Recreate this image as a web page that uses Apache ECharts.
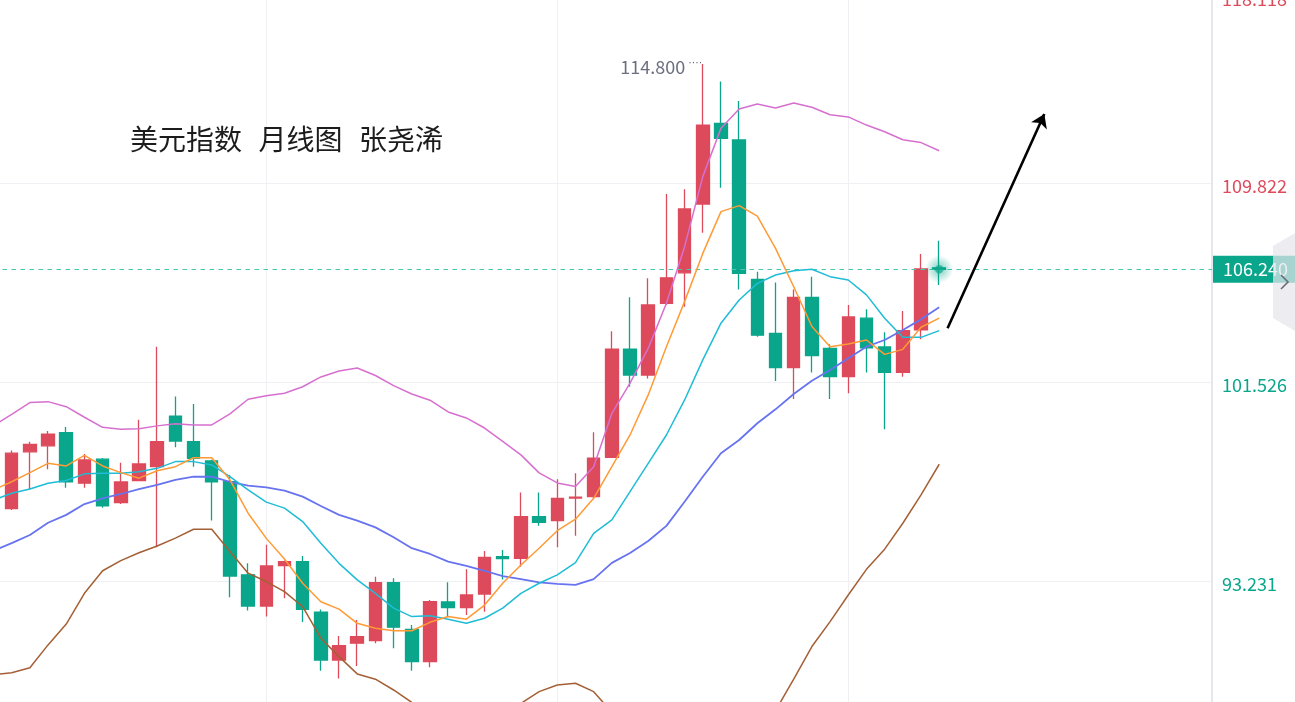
<!DOCTYPE html>
<html>
<head>
<meta charset="utf-8">
<script src="https://cdn.jsdelivr.net/npm/echarts@6/dist/echarts.min.js"></script>
<style>
html,body{margin:0;padding:0;background:#fff;}
#c{width:1295px;height:702px;}
</style>
</head>
<body>
<div id="c"></div>
<script>
// ---- data (monthly US Dollar Index) ----
const categories = [
  '2019-06','2019-07','2019-08','2019-09','2019-10','2019-11','2019-12',
  '2020-01','2020-02','2020-03','2020-04','2020-05','2020-06','2020-07','2020-08','2020-09','2020-10','2020-11','2020-12',
  '2021-01','2021-02','2021-03','2021-04','2021-05','2021-06','2021-07','2021-08','2021-09','2021-10','2021-11','2021-12',
  '2022-01','2022-02','2022-03','2022-04','2022-05','2022-06','2022-07','2022-08','2022-09','2022-10','2022-11','2022-12',
  '2023-01','2023-02','2023-03','2023-04','2023-05','2023-06','2023-07','2023-08','2023-09','2023-10','2023-11','2023-12',
  '2024-01','2024-02','2024-03','2024-04','2024-05','2024-06','2024-07','2024-08','2024-09','2024-10','2024-11','2024-12',
  '2025-01'
];

// [open, close, low, high]
const candles = [
  '-',
  [96.26, 98.57, 96.20, 98.68],
  [98.63, 98.94, 97.07, 99.05],
  [98.88, 99.36, 97.90, 99.50],
  [99.43, 97.38, 97.13, 99.66],
  [97.32, 98.29, 97.13, 98.54],
  [98.32, 96.38, 96.30, 98.37],
  [96.51, 97.37, 96.45, 98.17],
  [97.43, 98.12, 97.40, 99.96],
  [98.01, 99.05, 94.65, 103.01],
  [100.12, 99.08, 98.82, 100.93],
  [99.05, 98.36, 98.01, 100.62],
  [98.25, 97.38, 95.76, 98.30],
  [97.38, 93.45, 92.57, 97.66],
  [93.50, 92.20, 92.01, 93.98],
  [92.20, 93.87, 91.76, 94.75],
  [93.88, 94.05, 92.52, 94.10],
  [94.05, 92.06, 91.53, 94.29],
  [91.94, 89.95, 89.50, 92.06],
  [89.95, 90.55, 89.18, 90.95],
  [90.65, 90.92, 89.70, 91.62],
  [90.76, 93.17, 90.65, 93.42],
  [93.17, 91.32, 90.44, 93.36],
  [91.23, 89.88, 89.50, 91.41],
  [89.88, 92.38, 89.65, 92.45],
  [92.37, 92.13, 91.73, 93.19],
  [92.13, 92.66, 91.83, 93.73],
  [92.70, 94.23, 91.96, 94.49],
  [94.26, 94.18, 93.31, 94.54],
  [94.19, 95.93, 93.84, 96.93],
  [95.93, 95.69, 95.55, 96.93],
  [95.76, 96.69, 94.65, 97.48],
  [96.70, 96.74, 95.13, 97.73],
  [96.76, 98.36, 96.69, 99.44],
  [98.40, 102.91, 98.40, 103.65],
  [102.91, 101.83, 101.34, 105.07],
  [101.83, 104.75, 101.69, 105.86],
  [104.82, 105.88, 104.75, 109.38],
  [106.09, 108.75, 104.68, 109.57],
  [108.96, 112.25, 107.76, 114.80],
  [112.32, 111.70, 109.64, 114.07],
  [111.63, 106.07, 105.40, 113.25],
  [105.82, 103.49, 103.43, 106.14],
  [103.57, 102.14, 101.58, 105.69],
  [102.14, 105.07, 100.83, 105.40],
  [105.07, 102.64, 101.94, 105.93],
  [102.94, 101.76, 100.83, 103.11],
  [101.76, 104.25, 101.07, 104.75],
  [104.20, 102.96, 101.94, 104.57],
  [103.00, 101.94, 99.57, 103.61],
  [101.94, 103.68, 101.76, 104.50],
  [103.71, 106.25, 103.32, 106.87],
  [106.30, 106.24, 105.58, 107.43]
];

const ma5 = [97.04, 97.38, 97.76, 98.15, 98.04, 98.48, 98.04, 97.76, 97.53, 97.84, 98.01, 98.38, 98.38,
  97.46, 96.07, 95.02, 94.16, 93.15, 92.38, 92.07, 91.48, 91.27, 91.17,
  91.17, 91.52, 91.76, 91.65, 92.24, 93.15, 93.91, 94.61, 95.34, 95.82,
  96.69, 98.01, 99.33, 101.00, 103.01, 104.89, 106.90, 108.64, 108.89, 108.45,
  107.11, 105.51, 103.85, 103.01, 103.12, 103.29, 102.69, 102.90, 103.82, 104.20];

const ma10 = [96.62, 96.90, 97.08, 97.32, 97.43, 97.71, 97.73, 97.73, 97.80, 97.94, 98.22, 98.22, 98.08,
  97.59, 97.04, 96.53, 96.28, 95.72, 94.82, 93.98, 93.29, 92.73, 92.11,
  91.76, 91.79, 91.65, 91.48, 91.69, 92.11, 92.73, 93.15, 93.50, 94.01,
  95.23, 95.79, 96.97, 98.15, 99.33, 100.79, 102.46, 103.99, 104.96, 105.65,
  106.00, 106.18, 106.24, 105.93, 105.79, 105.17, 104.20, 103.40, 103.40, 103.68];

const ma20 = [94.51, 94.82, 95.16, 95.67, 96.00, 96.45, 96.69, 96.87, 97.07, 97.25, 97.46, 97.59, 97.59,
  97.38, 97.22, 97.15, 97.01, 96.76, 96.37, 96.00, 95.76, 95.48, 95.07,
  94.61, 94.37, 94.05, 93.87, 93.67, 93.45, 93.32, 93.19, 93.12, 93.08,
  93.32, 94.00, 94.41, 94.91, 95.54, 96.55, 97.59, 98.57, 99.12, 99.82,
  100.40, 101.04, 101.59, 102.04, 102.53, 103.01, 103.29, 103.71, 104.15, 104.65];

const bollUpper = [99.72, 100.19, 100.68, 100.72, 100.51, 100.07, 99.65, 99.57, 99.59, 99.71, 99.80, 99.75, 99.75,
  100.21, 100.82, 100.97, 101.07, 101.34, 101.75, 102.00, 102.12, 101.81, 101.39,
  101.04, 100.78, 100.29, 100.04, 99.62, 99.06, 98.50, 97.75, 97.33, 97.18,
  98.01, 100.23, 101.49, 102.94, 104.82, 107.18, 110.10, 112.12, 112.92, 113.13,
  112.96, 113.17, 112.99, 112.68, 112.59, 112.25, 111.97, 111.64, 111.52, 111.18];

const bollLower = [89.33, 89.42, 89.63, 90.58, 91.45, 92.73, 93.67, 94.09, 94.42, 94.70, 95.03, 95.40, 95.40,
  94.47, 93.57, 93.22, 92.80, 92.17, 90.86, 90.09, 89.37, 89.15, 88.70,
  88.18, 87.96, 87.81, 87.70, 87.72, 87.84, 88.14, 88.63, 88.91, 88.98,
  88.63, 87.77, 87.33, 86.88, 86.26, 85.92, 85.08, 85.02, 85.32, 86.51,
  87.84, 89.15, 90.51, 91.55, 92.66, 93.73, 94.57, 95.65, 96.83, 98.11];

const yMin = 84.9348;
const yStep = 8.2958;
const yMax = 118.118;
const lastPrice = 106.24;
const highPoint = { index: 39, value: 114.80 };
const arrowFrom = [52.46, 103.78];
const arrowTo = [57.78, 112.71];
const titleParts = ['美元指数', '月线图', '张尧浠'];

// ---- chart ----
const RED = '#dd4a5b';
const GREEN = '#0aa68b';
const TEAL_LINE = '#42c9ad';
const FONT = '"Noto Sans CJK SC", "Noto Sans", sans-serif';
const chart = echarts.init(document.getElementById('c'));

function lineSeries(name, data, color, width, z) {
  return {
    type: 'line', name: name, data: data, symbol: 'none', smooth: false, silent: true,
    lineStyle: { color: color, width: width }, itemStyle: { color: color }, z: z
  };
}

const lastIndex = candles.length - 1;

const option = {
  animation: false,
  backgroundColor: '#ffffff',
  textStyle: { fontFamily: FONT },
  title: {
    text: titleParts.map(function (p) { return '{t|' + p + '}'; }).join('{g|}'),
    left: 130, top: 125, padding: 0,
    textStyle: {
      fontSize: 28, fontWeight: 'normal', color: '#1c1c1c', fontFamily: FONT,
      rich: {
        t: { fontSize: 28, color: '#1c1c1c', fontFamily: FONT },
        g: { width: 16.5 }
      }
    }
  },
  grid: { left: -6.5, right: 83, top: -15.7, bottom: -78.3, containLabel: false, outerBoundsMode: 'none' },
  xAxis: [
    {
      type: 'category', data: categories, boundaryGap: false,
      axisLine: { show: false }, axisTick: { show: false }, axisLabel: { show: false },
      splitLine: { show: true, interval: function (i) { return i % 16 === 15 && i <= lastIndex; }, lineStyle: { color: '#efeff4', width: 1 } }
    },
    { type: 'value', min: 0, max: categories.length - 1, show: false }
  ],
  yAxis: {
    type: 'value', position: 'right', min: yMin, max: yMax, interval: yStep,
    axisLine: { show: true, onZero: false, lineStyle: { color: '#e6e6ed', width: 2 } },
    axisTick: { show: false },
    splitLine: { show: true, lineStyle: { color: '#efeff4', width: 1 } },
    axisLabel: {
      margin: 10, fontSize: 18, fontFamily: FONT, padding: [6, 0, 0, 0],
      formatter: function (v) { return v > 115 ? '{t|' + v.toFixed(3) + '}' : v.toFixed(3); },
      color: function (v) { return parseFloat(v) > lastPrice ? RED : GREEN; },
      rich: { t: { fontSize: 18, color: RED, fontFamily: FONT, padding: [24, 0, 0, 0] } }
    }
  },
  graphic: [
    { type: 'polygon', z: 100, silent: true,
      shape: { points: [[1295, 233], [1273, 246], [1273, 318], [1295, 331]] },
      style: { fill: 'rgba(228,228,236,0.72)' } },
    { type: 'polyline', z: 101, silent: true,
      shape: { points: [[1281, 275], [1288, 282], [1281, 289]] },
      style: { stroke: '#6a6d7a', lineWidth: 1.6, fill: null } }
  ],
  series: [
    {
      type: 'candlestick', data: candles, barWidth: 13, silent: true, z: 2,
      itemStyle: { color: RED, color0: GREEN, borderColor: RED, borderColor0: GREEN, borderWidth: 1.3 },
      markPoint: {
        silent: true, symbol: 'circle', symbolSize: 1, animation: false,
        itemStyle: { color: 'rgba(0,0,0,0)' },
        data: [{ coord: [highPoint.index, highPoint.value] }],
        label: {
          show: true, position: 'left', distance: 0, offset: [0, 3],
          formatter: '{v|' + highPoint.value.toFixed(3) + '}{d|····}',
          rich: {
            v: { fontSize: 18, color: '#6b6f80', fontFamily: FONT },
            d: { fontSize: 11, color: '#6b6f80', verticalAlign: 'top', fontFamily: '"DejaVu Sans"', padding: [0, 0, 0, 3] }
          }
        }
      }
    },
    {
      type: 'line', name: 'last', data: [], silent: true, z: 7,
      markLine: {
        silent: true, symbol: ['none', 'none'], animation: false,
        data: [{ yAxis: lastPrice }],
        lineStyle: { color: TEAL_LINE, type: [4.5, 4.5], width: 1.2 },
        label: {
          position: 'end', distance: 1, formatter: lastPrice.toFixed(3), color: '#ffffff',
          backgroundColor: GREEN, fontSize: 18, fontFamily: FONT, padding: [4, 12, 5, 10]
        }
      }
    },
    lineSeries('BOLL上轨', bollUpper, '#d670cf', 1.5, 3),
    lineSeries('BOLL下轨', bollLower, '#a45f35', 1.5, 3),
    lineSeries('MA20', ma20, '#6773ef', 1.8, 4),
    lineSeries('MA10', ma10, '#1fbcd6', 1.5, 5),
    lineSeries('MA5', ma5, '#ff9a35', 1.5, 6),
    {
      type: 'scatter', silent: true, z: 8,
      data: [[lastIndex, lastPrice]], symbolSize: 28,
      itemStyle: {
        color: new echarts.graphic.RadialGradient(0.5, 0.5, 0.5, [
          { offset: 0, color: 'rgba(10,166,139,1)' },
          { offset: 0.26, color: 'rgba(10,166,139,1)' },
          { offset: 0.34, color: 'rgba(10,166,139,0.45)' },
          { offset: 1, color: 'rgba(10,166,139,0)' }
        ])
      }
    },
    {
      type: 'line', xAxisIndex: 1, yAxisIndex: 0, silent: true, z: 9,
      data: [arrowFrom, arrowTo], symbol: 'none',
      lineStyle: { width: 0, opacity: 0 },
      markLine: {
        silent: true, animation: false, symbol: ['none', 'arrow'], symbolSize: 13,
        label: { show: false },
        lineStyle: { color: '#000000', width: 2.6, type: 'solid' },
        data: [[{ coord: arrowFrom }, { coord: arrowTo }]]
      }
    }
  ]
};
chart.setOption(option);
</script>
</body>
</html>
